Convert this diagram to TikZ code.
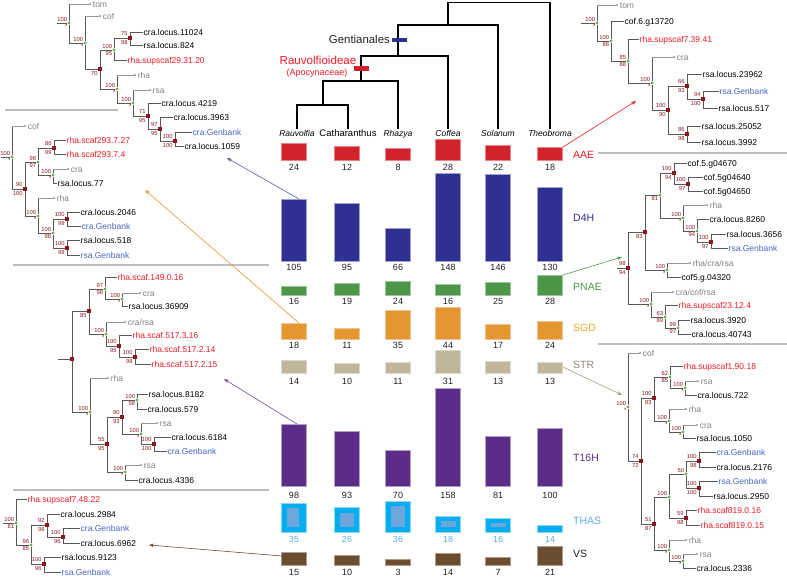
\documentclass[tikz,border=0pt]{standalone}
\usepackage{fontspec}
\setmainfont{Liberation Sans}
\usepackage{tikz}
\usetikzlibrary{arrows.meta, backgrounds}
\usepackage{xcolor}
\definecolor{brgray}{RGB}{88,88,90}
\definecolor{phgray}{RGB}{150,150,152}
\definecolor{ndred}{RGB}{140,22,28}
\definecolor{ndgreen}{RGB}{98,178,72}
\definecolor{labred}{RGB}{237,28,36}
\definecolor{labblue}{RGB}{70,100,190}
\definecolor{labgray}{RGB}{128,128,128}
\definecolor{numcol}{RGB}{35,31,32}
\definecolor{aaecol}{RGB}{210,35,42}
\definecolor{d4hcol}{RGB}{46,49,146}
\definecolor{pnaecol}{RGB}{77,150,72}
\definecolor{sgdcol}{RGB}{228,150,48}
\definecolor{strcol}{RGB}{191,182,156}
\definecolor{t16col}{RGB}{92,45,136}
\definecolor{thascol}{RGB}{0,174,239}
\definecolor{thasin}{RGB}{108,166,220}
\definecolor{thasnum}{RGB}{90,175,230}
\definecolor{vscol}{RGB}{106,76,46}
\definecolor{sepgray}{RGB}{190,190,192}
\tikzset{
  br/.style={draw=brgray, line width=0.75pt},
  ph/.style={draw=phgray, line width=0.6pt},
  gn/.style={circle, fill=ndgreen, inner sep=0pt, minimum size=3.4pt},
  rn/.style={rectangle, fill=ndred, inner sep=0pt, minimum size=3.6pt},
  phd/.style={circle, fill=phgray, inner sep=0pt, minimum size=2.4pt},
  svl/.style={font=\fontsize{5.8}{6}\selectfont, text=ndred, inner sep=0.3pt},
  ast/.style={font=\fontsize{6}{6}\selectfont, text=ndred, inner sep=0pt},
  lf/.style={anchor=west, font=\fontsize{8.5}{9}\selectfont, inner sep=0.5pt, text height=6pt, text depth=0pt},
  lfr/.style={lf, text=labred},
  lfb/.style={lf, text=labblue},
  lfg/.style={lf, text=labgray, label distance=0.8pt},
  sp/.style={draw=black, line width=1.3pt},
  spn/.style={font=\fontsize{8.5}{9}\selectfont\itshape, inner sep=1pt, text height=6pt, text depth=0pt},
  num/.style={font=\fontsize{9}{10}\selectfont, text=numcol, inner sep=0pt},
  cat/.style={anchor=west, font=\fontsize{10.5}{12}\selectfont, inner sep=0pt},
  bar/.style={line width=0.5pt},
  sep/.style={draw=sepgray, line width=2.4pt},
  arr/.style={-{Stealth[length=5pt, width=3.6pt]}, line width=0.6pt},
}

\begin{document}
\begin{tikzpicture}[x=1pt, y=-1pt]
  \useasboundingbox (0,0) rectangle (787,576);

  % separators
  \draw[sep] (5,110) -- (118,110);
  \draw[sep] (13,265) -- (269,265);
  \draw[sep] (13,490) -- (269,490);
  \draw[sep] (598,153) -- (787,153);
  \draw[sep] (598,344) -- (787,344);

  % species tree
  \node[spn] (rauv) at (297,133) {Rauvolfia};
  \node[spn, font=\fontsize{9.5}{10}\selectfont] (cath) at (348,133) {Catharanthus};
  \node[spn] (rhaz) at (398,133) {Rhazya};
  \node[spn] (coff) at (448,133) {Coffea};
  \node[spn] (sola) at (498,133) {Solanum};
  \node[spn] (theo) at (550,133) {Theobroma};
  \coordinate (n5) at (323,105);
  \coordinate (n4) at (361,81);
  \coordinate (n3) at (398,56);
  \coordinate (n2) at (448,25);
  \coordinate (n1) at (498.5,2.5);
  \draw[sp] (rauv.north) |- (n5) -| (cath.north);
  \draw[sp] (n5) |- (n4) -| (rhaz.north);
  \draw[sp] (n4) |- (n3) -| (coff.north);
  \draw[sp] (n3) |- (n2) -| (sola.north);
  \draw[sp] (n2) |- (n1) -| (theo.north);
  \fill[d4hcol] (392,37.5) rectangle (407,41.5);
  \node[anchor=east, font=\fontsize{11.4}{12}\selectfont, text=numcol, inner sep=0pt] (gent) at (390,39) {Gentianales};
  \fill[aaecol] (354,66) rectangle (369,71);
  \node[font=\fontsize{11.6}{12}\selectfont, text=labred, inner sep=0pt] (rauvo) at (318,60) {Rauvolfioideae};
  \node[font=\fontsize{9}{10}\selectfont, text=labred, inner sep=0pt] (apoc) at (317,73) {(Apocynaceae)};

  % bars
  \foreach \cx/\tp/\nm [count=\i] in {294/143/24, 347/146/12, 398/148/8, 448/139/28, 498/145/22, 550/147/18}{
    \filldraw[bar, fill=aaecol, draw=aaecol!55!white] (\cx-12.5,\tp) rectangle (\cx+12.5,160);
    \node[num] (aae\i) at (\cx,167) {\nm};
  }
  \foreach \cx/\tp/\nm [count=\i] in {294/199/105, 347/203/95, 398/228/66, 448/173/148, 498/174/146, 550/187/130}{
    \filldraw[bar, fill=d4hcol, draw=d4hcol!45!white] (\cx-12.5,\tp) rectangle (\cx+12.5,261);
    \node[num] (dfh\i) at (\cx,267.5) {\nm};
  }
  \foreach \cx/\tp/\nm [count=\i] in {294/286/16, 347/283/19, 398/281/24, 448/284/16, 498/282/25, 550/275/28}{
    \filldraw[bar, fill=pnaecol, draw=pnaecol!55!white] (\cx-12.5,\tp) rectangle (\cx+12.5,295);
    \node[num] (pna\i) at (\cx,301.5) {\nm};
  }
  \foreach \cx/\tp/\nm [count=\i] in {294/323/18, 347/328/11, 398/310/35, 448/307/44, 498/324/17, 550/321/24}{
    \filldraw[bar, fill=sgdcol, draw=sgdcol!55!white] (\cx-12.5,\tp) rectangle (\cx+12.5,339);
    \node[num] (sgd\i) at (\cx,345) {\nm};
  }
  \foreach \cx/\tp/\nm [count=\i] in {294/360/14, 347/363/10, 398/362/11, 448/350/31, 498/361/13, 550/362/13}{
    \filldraw[bar, fill=strcol, draw=strcol!55!white] (\cx-12.5,\tp) rectangle (\cx+12.5,373);
    \node[num] (str\i) at (\cx,381) {\nm};
  }
  \foreach \cx/\tp/\nm [count=\i] in {294/424/98, 347/431/93, 398/450/70, 448/388/158, 498/436/81, 550/428/100}{
    \filldraw[bar, fill=t16col, draw=t16col!45!white] (\cx-12.5,\tp) rectangle (\cx+12.5,486);
    \node[num] (tsh\i) at (\cx,495) {\nm};
  }
  \foreach \cx/\tp/\nm [count=\i] in {294/503/35, 347/507/26, 398/501/36, 448/516/18, 498/518/16, 550/525/14}{
    \filldraw[bar, fill=thascol, draw=thascol!45!white] (\cx-12.5,\tp) rectangle (\cx+12.5,532);
    \node[num, text=thasnum] (tha\i) at (\cx,539.5) {\nm};
  }
  \foreach \cx/\tp/\hw in {293/508/6, 347/513/7, 398/506/7, 448.5/521/7.5, 498.5/523/7.5}{
    \fill[thasin] (\cx-\hw,\tp) rectangle (\cx+\hw,527);
  }
  \foreach \cx/\tp/\nm [count=\i] in {294/552/15, 347/555/10, 398/559/3, 448/553/14, 498/557/7, 550/546/21}{
    \filldraw[bar, fill=vscol, draw=vscol!55!white] (\cx-12.5,\tp) rectangle (\cx+12.5,565);
    \node[num] (vsn\i) at (\cx,572) {\nm};
  }

  % row labels
  \node[cat, text=labred] (laae) at (573,155) {AAE};
  \node[cat, text=d4hcol] (ld4h) at (573,218) {D4H};
  \node[cat, text=pnaecol] (lpnae) at (573,287) {PNAE};
  \node[cat, text=sgdcol!85!yellow] (lsgd) at (573,328) {SGD};
  \node[cat, text=strcol!75!black] (lstr) at (573,365) {STR};
  \node[cat, text=t16col] (lt16) at (573,458) {T16H};
  \node[cat, text=thasnum] (lthas) at (573,521) {THAS};
  \node[cat, text=numcol] (lvs) at (573,554) {VS};

  % arrows to gene trees
  \coordinate (aaet) at (563,147);  \coordinate (aaeh) at (636,101);
  \coordinate (dfht) at (299,199);  \coordinate (dfhh) at (227,158);
  \coordinate (pnat) at (563,275);  \coordinate (pnah) at (622,257);
  \coordinate (sgdt) at (299,323);  \coordinate (sgdh) at (145,190);
  \coordinate (strt) at (563,367);  \coordinate (strh) at (622,395);
  \coordinate (tsht) at (297,424);  \coordinate (tshh) at (224,379);
  \coordinate (vst) at (282,556);   \coordinate (vsh) at (149,545);
  \draw[arr, draw=labred] (aaet) -- (aaeh);
  \draw[arr, draw=d4hcol!80!white] (dfht) -- (dfhh);
  \draw[arr, draw=pnaecol] (pnat) -- (pnah);
  \draw[arr, draw=sgdcol] (sgdt) -- (sgdh);
  \draw[arr, draw=strcol!85!black] (strt) -- (strh);
  \draw[arr, draw=t16col!85!white] (tsht) -- (tshh);
  \draw[arr, draw=vscol] (vst) -- (vsh);

  % D4H gene tree
  \coordinate (dst) at (57,23);
  \node[gn, label={[svl]above left:100}, label={[ast]below left:*}] (d0) at (69,23) {};
  \node[phd, label={[lfg]right:tom}] (dtom) at (90,4) {};
  \node[gn, label={[svl]above left:100}, label={[ast]below left:*}] (d1) at (85,43) {};
  \node[phd, label={[lfg]right:cof}] (dcof) at (100,16) {};
  \node[rn, label={[svl]below left:70}] (d2) at (100,69) {};
  \node[gn, label={[svl]above left:100}, label={[svl]below left:95}] (d3) at (114,50) {};
  \node[rn, label={[svl]above left:75}, label={[svl]below left:98}] (d4) at (130,38) {};
  \node[lf] (dl1) at (143,32) {cra.locus.11024};
  \node[lf] (dl2) at (143,45) {rsa.locus.824};
  \node[lfr] (dl3) at (127,60) {rha.supscaf29.31.20};
  \node[gn, label={[svl]above left:100}, label={[ast]below left:*}] (d5) at (117,89) {};
  \node[phd, label={[lfg]right:rha}] (drha) at (135,75) {};
  \node[gn, label={[svl]above left:100}, label={[ast]below left:*}] (d6) at (133,103) {};
  \node[phd, label={[lfg]right:rsa}] (drsa) at (150,90) {};
  \node[rn, label={[svl]above left:71}, label={[svl]below left:95}] (d7) at (148,116) {};
  \node[lf] (dl4) at (161,103) {cra.locus.4219};
  \node[rn, label={[svl]above left:97}, label={[svl]below left:95}] (d8) at (160,129) {};
  \node[lf] (dl5) at (173,117) {cra.locus.3963};
  \node[rn, label={[svl]above left:100}, label={[svl]below left:100}] (d9) at (175,141) {};
  \node[lfb] (dl6) at (192,132) {cra.Genbank};
  \node[lf] (dl7) at (184,146) {cra.locus.1059};
  \begin{scope}[on background layer]
    \draw[br] (dst) -- (d0);
    \draw[br] (d0) -- (d0 |- dtom);  \draw[ph] (d0 |- dtom) -- (dtom);
    \draw[br] (d0) |- (d1);
    \draw[br] (d1) -- (d1 |- dcof);  \draw[ph] (d1 |- dcof) -- (dcof);
    \draw[br] (d1) |- (d2);
    \draw[br] (d2) |- (d3);  \draw[br] (d2) |- (d5);
    \draw[br] (d3) |- (d4);  \draw[br] (d3) |- (dl3.west);
    \draw[br] (d4) |- (dl1.west);  \draw[br] (d4) |- (dl2.west);
    \draw[br] (d5) -- (d5 |- drha);  \draw[ph] (d5 |- drha) -- (drha);
    \draw[br] (d5) |- (d6);
    \draw[br] (d6) -- (d6 |- drsa);  \draw[ph] (d6 |- drsa) -- (drsa);
    \draw[br] (d6) |- (d7);
    \draw[br] (d7) |- (dl4.west);  \draw[br] (d7) |- (d8);
    \draw[br] (d8) |- (dl5.west);  \draw[br] (d8) |- (d9);
    \draw[br] (d9) |- (dl6.west);  \draw[br] (d9) |- (dl7.west);
  \end{scope}

  % SGD gene tree
  \coordinate (sst) at (1,157);
  \node[gn, label={[svl]above left:100}, label={[ast]below left:*}] (s0) at (12,157) {};
  \node[phd, label={[lfg]right:cof}] (scof) at (25,126) {};
  \node[rn, label={[svl]above left:90}, label={[svl]below left:100}] (s1) at (25,189) {};
  \node[gn, label={[svl]above left:98}, label={[svl]below left:97}] (s2) at (38,162) {};
  \node[rn, label={[svl]above left:86}, label={[svl]below left:99}] (s3) at (54,148) {};
  \node[lfr] (sl1) at (66,140) {rha.scaf293.7.27};
  \node[lfr] (sl2) at (66,154) {rha.scaf293.7.4};
  \node[gn, label={[svl]above left:100}, label={[ast]below left:*}] (s4) at (53,175) {};
  \node[phd, label={[lfg]right:cra}] (scra) at (68,169) {};
  \node[lf] (sl3) at (57,183) {rsa.locus.77};
  \node[gn, label={[svl]above left:100}, label={[ast]below left:*}] (s5) at (38,216) {};
  \node[phd, label={[lfg]right:rha}] (srha) at (54,198) {};
  \node[gn, label={[svl]above left:100}, label={[svl]below left:96}] (s6) at (53,233) {};
  \node[rn, label={[svl]above left:100}, label={[svl]below left:99}] (s7) at (67,219) {};
  \node[lf] (sl4) at (80,212) {cra.locus.2046};
  \node[lfb] (sl5) at (81,226) {cra.Genbank};
  \node[rn, label={[svl]above left:100}, label={[svl]below left:99}] (s8) at (67,248) {};
  \node[lf] (sl6) at (80,240) {rsa.locus.518};
  \node[lfb] (sl7) at (80,255) {rsa.Genbank};
  \begin{scope}[on background layer]
    \draw[br] (sst) -- (s0);
    \draw[br] (s0) -- (s0 |- scof);  \draw[ph] (s0 |- scof) -- (scof);
    \draw[br] (s0) |- (s1);
    \draw[br] (s1) |- (s2);  \draw[br] (s1) |- (s5);
    \draw[br] (s2) |- (s3);  \draw[br] (s2) |- (s4);
    \draw[br] (s3) |- (sl1.west);  \draw[br] (s3) |- (sl2.west);
    \draw[br] (s4) -- (s4 |- scra);  \draw[ph] (s4 |- scra) -- (scra);
    \draw[br] (s4) |- (sl3.west);
    \draw[br] (s5) -- (s5 |- srha);  \draw[ph] (s5 |- srha) -- (srha);
    \draw[br] (s5) |- (s6);
    \draw[br] (s6) |- (s7);  \draw[br] (s6) |- (s8);
    \draw[br] (s7) |- (sl4.west);  \draw[br] (s7) |- (sl5.west);
    \draw[br] (s8) |- (sl6.west);  \draw[br] (s8) |- (sl7.west);
  \end{scope}

  % T16H gene tree
  \coordinate (tst) at (58,359);
  \node[rn] (t0) at (72,359) {};
  \node[rn, label={[svl]below left:85}] (t1) at (89,311) {};
  \node[gn, label={[svl]above left:97}, label={[svl]below left:98}] (t2) at (105,289) {};
  \node[lfr] (tl1) at (117,277) {rha.scaf.149.0.16};
  \node[gn, label={[svl]above left:100}, label={[ast]below left:*}] (t3) at (122,299) {};
  \node[phd, label={[lfg]right:cra}] (tcra) at (140,293) {};
  \node[lf] (tl2) at (128,306) {rsa.locus.36909};
  \node[gn, label={[svl]above left:100}, label={[ast]below left:*}] (t4) at (106,334) {};
  \node[phd, label={[lfg]right:cra/rsa}] (tcrs) at (125,322) {};
  \node[rn, label={[svl]above left:100}, label={[svl]below left:95}] (t5) at (119,346) {};
  \node[lfr] (tl3) at (132,335) {rha.scaf.517.3.16};
  \node[rn, label={[svl]above left:100}, label={[svl]below left:98}] (t6) at (135,357) {};
  \node[lfr] (tl4) at (149,349) {rha.scaf.517.2.14};
  \node[lfr] (tl5) at (151,364) {rha.scaf.517.2.15};
  \node[gn, label={[svl]above left:100}, label={[ast]below left:*}] (t7) at (90,412) {};
  \node[phd, label={[lfg]right:rha}] (trha) at (108,378) {};
  \node[rn, label={[svl]above left:55}, label={[svl]below left:95}] (t8) at (107,444) {};
  \node[rn, label={[svl]above left:90}, label={[svl]below left:93}] (t9) at (122,417) {};
  \node[gn, label={[svl]above left:100}, label={[svl]below left:98}] (t10) at (137,400) {};
  \node[lf] (tl6) at (148,394) {rsa.locus.8182};
  \node[lf] (tl7) at (147,409) {cra.locus.579};
  \node[gn, label={[svl]above left:100}, label={[ast]below left:*}] (t11) at (141,434) {};
  \node[phd, label={[lfg]right:rsa}] (trsa) at (157,423) {};
  \node[rn, label={[svl]above left:100}, label={[svl]below left:100}] (t12) at (154,444) {};
  \node[lf] (tl8) at (171,437) {cra.locus.6184};
  \node[lfb] (tl9) at (167,451) {cra.Genbank};
  \node[gn, label={[svl]above left:100}, label={[ast]below left:*}] (t13) at (125,472) {};
  \node[phd, label={[lfg]right:rsa}] (trsb) at (141,465) {};
  \node[lf] (tl10) at (138,480) {cra.locus.4336};
  \begin{scope}[on background layer]
    \draw[br] (tst) -- (t0);
    \draw[br] (t0) |- (t1);  \draw[br] (t0) |- (t7);
    \draw[br] (t1) |- (t2);  \draw[br] (t1) |- (t4);
    \draw[br] (t2) |- (tl1.west);  \draw[br] (t2) |- (t3);
    \draw[br] (t3) -- (t3 |- tcra);  \draw[ph] (t3 |- tcra) -- (tcra);
    \draw[br] (t3) |- (tl2.west);
    \draw[br] (t4) -- (t4 |- tcrs);  \draw[ph] (t4 |- tcrs) -- (tcrs);
    \draw[br] (t4) |- (t5);
    \draw[br] (t5) |- (tl3.west);  \draw[br] (t5) |- (t6);
    \draw[br] (t6) |- (tl4.west);  \draw[br] (t6) |- (tl5.west);
    \draw[br] (t7) -- (t7 |- trha);  \draw[ph] (t7 |- trha) -- (trha);
    \draw[br] (t7) |- (t8);
    \draw[br] (t8) |- (t9);  \draw[br] (t8) |- (t13);
    \draw[br] (t9) |- (t10);  \draw[br] (t9) |- (t11);
    \draw[br] (t10) |- (tl6.west);  \draw[br] (t10) |- (tl7.west);
    \draw[br] (t11) -- (t11 |- trsa);  \draw[ph] (t11 |- trsa) -- (trsa);
    \draw[br] (t11) |- (t12);
    \draw[br] (t12) |- (tl8.west);  \draw[br] (t12) |- (tl9.west);
    \draw[br] (t13) -- (t13 |- trsb);  \draw[ph] (t13 |- trsb) -- (trsb);
    \draw[br] (t13) |- (tl10.west);
  \end{scope}

  % VS gene tree
  \coordinate (vstub) at (3,523);
  \node[gn, label={[svl]above left:100}, label={[svl]below left:81}] (v0) at (16,523) {};
  \node[lfr] (vl1) at (27,499) {rha.supscaf7.48.22};
  \node[gn, label={[svl]above left:96}, label={[svl]below left:85}] (v1) at (31,545) {};
  \node[rn, label={[svl]above left:92}, label={[svl]below left:98}] (v2) at (47,525) {};
  \node[lf] (vl2) at (60,514) {cra.locus.2984};
  \node[rn, label={[svl]above left:100}, label={[svl]below left:96}] (v3) at (63,537) {};
  \node[lfb] (vl3) at (80,528) {cra.Genbank};
  \node[lf] (vl4) at (80,543) {cra.locus.6962};
  \node[rn, label={[svl]above left:100}, label={[svl]below left:96}] (v4) at (44,564) {};
  \node[lf] (vl5) at (61,557) {rsa.locus.9123};
  \node[lfb] (vl6) at (61,572) {rsa.Genbank};
  \begin{scope}[on background layer]
    \draw[br] (vstub) -- (v0);
    \draw[br] (v0) |- (vl1.west);  \draw[br] (v0) |- (v1);
    \draw[br] (v1) |- (v2);  \draw[br] (v1) |- (v4);
    \draw[br] (v2) |- (vl2.west);  \draw[br] (v2) |- (v3);
    \draw[br] (v3) |- (vl3.west);  \draw[br] (v3) |- (vl4.west);
    \draw[br] (v4) |- (vl5.west);  \draw[br] (v4) |- (vl6.west);
  \end{scope}

  % AAE gene tree
  \coordinate (ast0) at (581,23);
  \node[gn, label={[svl]above left:100}, label={[ast]below left:*}] (a0) at (597,23) {};
  \node[phd, label={[lfg]right:tom}] (atom) at (617,5) {};
  \node[gn, label={[svl]above left:100}, label={[svl]below left:86}] (a1) at (611,41) {};
  \node[lf] (al1) at (624,21) {cof.6.g13720};
  \node[gn, label={[svl]above left:85}, label={[svl]below left:88}] (a2) at (628,61) {};
  \node[lfr] (al2) at (639,39) {rha.supscaf7.39.41};
  \node[gn, label={[svl]above left:100}, label={[ast]below left:*}] (a3) at (652,83) {};
  \node[phd, label={[lfg]right:cra}] (acra) at (674,57) {};
  \node[rn, label={[svl]above left:100}, label={[svl]below left:90}] (a4) at (668,110) {};
  \node[rn, label={[svl]above left:66}, label={[svl]below left:93}] (a5) at (687,86) {};
  \node[lf] (al3) at (702,74) {rsa.locus.23962};
  \node[rn, label={[svl]above left:94}, label={[svl]below left:100}] (a6) at (703,99) {};
  \node[lfb] (al4) at (719,91) {rsa.Genbank};
  \node[lf] (al5) at (718,108) {rsa.locus.517};
  \node[rn, label={[svl]above left:86}, label={[svl]below left:98}] (a7) at (687,134) {};
  \node[lf] (al6) at (701,126) {rsa.locus.25052};
  \node[lf] (al7) at (701,142) {rsa.locus.3992};
  \begin{scope}[on background layer]
    \draw[br] (ast0) -- (a0);
    \draw[br] (a0) -- (a0 |- atom);  \draw[ph] (a0 |- atom) -- (atom);
    \draw[br] (a0) |- (a1);
    \draw[br] (a1) |- (al1.west);  \draw[br] (a1) |- (a2);
    \draw[br] (a2) |- (al2.west);  \draw[br] (a2) |- (a3);
    \draw[br] (a3) -- (a3 |- acra);  \draw[ph] (a3 |- acra) -- (acra);
    \draw[br] (a3) |- (a4);
    \draw[br] (a4) |- (a5);  \draw[br] (a4) |- (a7);
    \draw[br] (a5) |- (al3.west);  \draw[br] (a5) |- (a6);
    \draw[br] (a6) |- (al4.west);  \draw[br] (a6) |- (al5.west);
    \draw[br] (a7) |- (al6.west);  \draw[br] (a7) |- (al7.west);
  \end{scope}

  % PNAE gene tree
  \coordinate (pst) at (617,268);
  \node[rn, label={[svl]above left:98}, label={[svl]below left:94}] (p0) at (628,268) {};
  \node[rn, label={[svl]below left:83}] (p1) at (645,232) {};
  \node[gn, label={[svl]below left:81}] (p2) at (660,195) {};
  \node[rn, label={[svl]above left:100}, label={[svl]below left:94}] (p3) at (674,173) {};
  \node[lf] (pl1) at (687,163) {cof.5.g04670};
  \node[rn, label={[svl]above left:100}, label={[svl]below left:97}] (p4) at (688,184) {};
  \node[lf] (pl2) at (703,177) {cof.5g04640};
  \node[lf] (pl3) at (703,191) {cof.5g04650};
  \node[gn, label={[svl]above left:100}, label={[ast]below left:*}] (p5) at (683,218) {};
  \node[phd, label={[lfg]right:rha}] (prha) at (707,205) {};
  \node[gn, label={[svl]above left:100}, label={[svl]below left:94}] (p6) at (697,231) {};
  \node[lf] (pl4) at (709,219) {cra.locus.8260};
  \node[rn, label={[svl]above left:100}, label={[svl]below left:97}] (p7) at (711,242) {};
  \node[lf] (pl5) at (726,234) {rsa.locus.3656};
  \node[lfb] (pl6) at (728,248) {rsa.Genbank};
  \node[gn, label={[svl]above left:100}, label={[ast]below left:*}] (p8) at (667,270) {};
  \node[phd, label={[lfg]right:rha/cra/rsa}] (prcr) at (690,263) {};
  \node[lf] (pl7) at (681,277) {cof5.g.04320};
  \node[gn, label={[svl]above left:100}, label={[ast]below left:*}] (p9) at (651,304) {};
  \node[phd, label={[lfg]right:cra/cof/rsa}] (pccr) at (673,292) {};
  \node[gn, label={[svl]above left:63}, label={[svl]below left:89}] (p10) at (665,317) {};
  \node[lfr] (pl8) at (678,305) {rha.supscaf23.12.4};
  \node[gn, label={[svl]above left:99}, label={[svl]below left:97}] (p11) at (678,328) {};
  \node[lf] (pl9) at (690,320) {rsa.locus.3920};
  \node[lf] (pl10) at (691,334) {cra.locus.40743};
  \begin{scope}[on background layer]
    \draw[br] (pst) -- (p0);
    \draw[br] (p0) |- (p1);  \draw[br] (p0) |- (p9);
    \draw[br] (p1) |- (p2);  \draw[br] (p1) |- (p8);
    \draw[br] (p2) |- (p3);  \draw[br] (p2) |- (p5);
    \draw[br] (p3) |- (pl1.west);  \draw[br] (p3) |- (p4);
    \draw[br] (p4) |- (pl2.west);  \draw[br] (p4) |- (pl3.west);
    \draw[br] (p5) -- (p5 |- prha);  \draw[ph] (p5 |- prha) -- (prha);
    \draw[br] (p5) |- (p6);
    \draw[br] (p6) |- (pl4.west);  \draw[br] (p6) |- (p7);
    \draw[br] (p7) |- (pl5.west);  \draw[br] (p7) |- (pl6.west);
    \draw[br] (p8) -- (p8 |- prcr);  \draw[ph] (p8 |- prcr) -- (prcr);
    \draw[br] (p8) |- (pl7.west);
    \draw[br] (p9) -- (p9 |- pccr);  \draw[ph] (p9 |- pccr) -- (pccr);
    \draw[br] (p9) |- (p10);
    \draw[br] (p10) |- (pl8.west);  \draw[br] (p10) |- (p11);
    \draw[br] (p11) |- (pl9.west);  \draw[br] (p11) |- (pl10.west);
  \end{scope}

  % STR gene tree
  \node[gn, label={[svl]above left:100}, label={[ast]below left:*}] (q0) at (628,407) {};
  \node[phd, label={[lfg]right:cof}] (qcof) at (640,353) {};
  \node[rn, label={[svl]above left:74}, label={[svl]below left:72}] (q1) at (641,461) {};
  \node[rn, label={[svl]above left:100}, label={[svl]below left:83}] (q2) at (654,398) {};
  \node[gn, label={[svl]above left:62}, label={[svl]below left:85}] (q3) at (670,377) {};
  \node[lfr] (ql1) at (683,366) {rha.supscaf1.90.18};
  \node[gn, label={[svl]above left:100}, label={[ast]below left:*}] (q4) at (685,388) {};
  \node[phd, label={[lfg]right:rsa}] (qrsa) at (698,381) {};
  \node[lf] (ql2) at (697,395) {cra.locus.722};
  \node[gn, label={[svl]above left:100}, label={[ast]below left:*}] (q5) at (669,421) {};
  \node[phd, label={[lfg]right:rha}] (qrha) at (686,409) {};
  \node[gn, label={[svl]above left:100}, label={[ast]below left:*}] (q6) at (683,432) {};
  \node[phd, label={[lfg]right:cra}] (qcra) at (697,425) {};
  \node[lf] (ql3) at (696,438) {rsa.locus.1050};
  \node[rn, label={[svl]above left:51}, label={[svl]below left:87}] (q7) at (654,524) {};
  \node[gn, label={[svl]above left:100}] (q8) at (669,497) {};
  \node[gn, label={[svl]above left:50}] (q9) at (686,474) {};
  \node[rn, label={[svl]above left:100}, label={[svl]below left:98}] (q10) at (699,461) {};
  \node[lfb] (ql4) at (716,452) {cra.Genbank};
  \node[lf] (ql5) at (716,467) {cra.locus.2176};
  \node[rn, label={[svl]above left:100}, label={[svl]below left:100}] (q11) at (699,488) {};
  \node[lfb] (ql6) at (718,481) {rsa.Genbank};
  \node[lf] (ql7) at (713,496) {rsa.locus.2950};
  \node[rn, label={[svl]above left:59}, label={[svl]below left:98}] (q12) at (686,518) {};
  \node[lfr] (ql8) at (697,510) {rha.scaf819.0.16};
  \node[lfr] (ql9) at (700,525) {rha.scaf819.0.15};
  \node[gn, label={[svl]above left:100}, label={[ast]below left:*}] (q13) at (669,550) {};
  \node[phd, label={[lfg]right:rha}] (qrhb) at (686,540) {};
  \node[gn, label={[svl]above left:100}, label={[ast]below left:*}] (q14) at (683,561) {};
  \node[phd, label={[lfg]right:rsa}] (qrsb) at (697,554) {};
  \node[lf] (ql10) at (696,568) {cra.locus.2336};
  \begin{scope}[on background layer]
    \draw[br] (q0) -- (q0 |- qcof);  \draw[ph] (q0 |- qcof) -- (qcof);
    \draw[br] (q0) |- (q1);
    \draw[br] (q1) |- (q2);  \draw[br] (q1) |- (q7);
    \draw[br] (q2) |- (q3);  \draw[br] (q2) |- (q5);
    \draw[br] (q3) |- (ql1.west);  \draw[br] (q3) |- (q4);
    \draw[br] (q4) -- (q4 |- qrsa);  \draw[ph] (q4 |- qrsa) -- (qrsa);
    \draw[br] (q4) |- (ql2.west);
    \draw[br] (q5) -- (q5 |- qrha);  \draw[ph] (q5 |- qrha) -- (qrha);
    \draw[br] (q5) |- (q6);
    \draw[br] (q6) -- (q6 |- qcra);  \draw[ph] (q6 |- qcra) -- (qcra);
    \draw[br] (q6) |- (ql3.west);
    \draw[br] (q7) |- (q8);  \draw[br] (q7) |- (q13);
    \draw[br] (q8) |- (q9);  \draw[br] (q8) |- (q12);
    \draw[br] (q9) |- (q10);  \draw[br] (q9) |- (q11);
    \draw[br] (q10) |- (ql4.west);  \draw[br] (q10) |- (ql5.west);
    \draw[br] (q11) |- (ql6.west);  \draw[br] (q11) |- (ql7.west);
    \draw[br] (q12) |- (ql8.west);  \draw[br] (q12) |- (ql9.west);
    \draw[br] (q13) -- (q13 |- qrhb);  \draw[ph] (q13 |- qrhb) -- (qrhb);
    \draw[br] (q13) |- (q14);
    \draw[br] (q14) -- (q14 |- qrsb);  \draw[ph] (q14 |- qrsb) -- (qrsb);
    \draw[br] (q14) |- (ql10.west);
  \end{scope}
\end{tikzpicture}
\end{document}
